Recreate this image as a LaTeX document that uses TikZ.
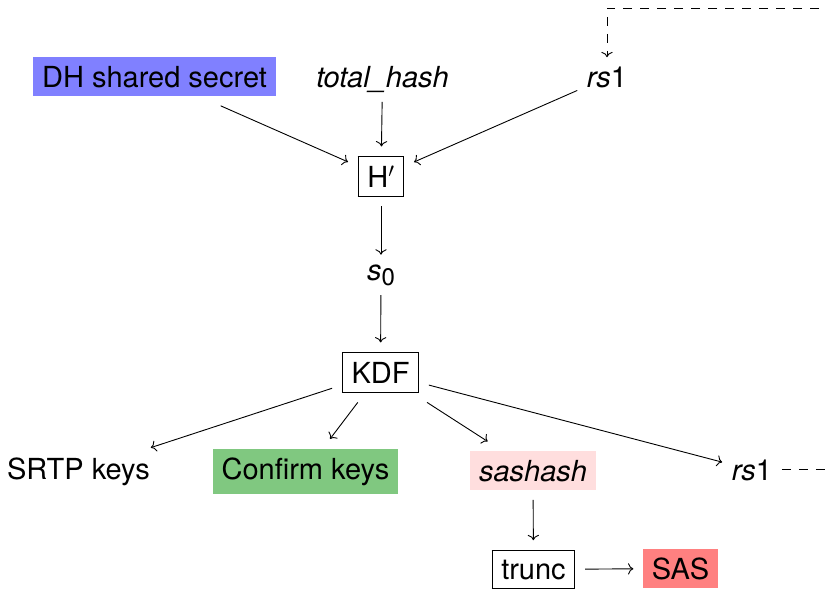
\documentclass[tikz,border=0pt]{standalone}
\usepackage{fontspec}
\usetikzlibrary{arrows.meta}
\setmainfont{TeX Gyre Heros}
\setsansfont{TeX Gyre Heros}
\definecolor{dhblue}{RGB}{128,128,255}
\definecolor{cgreen}{RGB}{128,200,128}
\definecolor{spink}{RGB}{255,222,222}
\definecolor{sasred}{RGB}{255,128,128}
\setlength{\fboxsep}{8.7pt}
\setlength{\fboxrule}{1pt}
\tikzset{
  n/.style={inner sep=9.5pt, font=\fontsize{29}{34}\selectfont, anchor=base},
  conn/.style={-{To[scale=1.5]}, line width=0.9pt},
  fb/.style={-{To[scale=1.5]}, line width=0.9pt, dash pattern=on 9pt off 8pt}
}
\begin{document}
\begin{tikzpicture}[x=1pt,y=-1pt]
\useasboundingbox (0,0) rectangle (827,589);
\clip (0,0) rectangle (827,589);
\node[n] (dh) at (154.5,87) {\colorbox{dhblue}{DH shared secret}};
\node[n] (th) at (382.5,87) {\textit{total\_hash}};
\node[n] (rsa) at (607,87.5) {\textit{rs}1};
\node[n] (h) at (381,187) {\fbox{H$'$}};
\node[n] (s0) at (381,280) {\textit{s}\raisebox{-5pt}{\fontsize{24}{24}\selectfont 0}};
\node[n] (kdf) at (380.5,383) {\fbox{KDF}};
\node[n] (srtp) at (78.5,479) {SRTP keys};
\node[n] (conf) at (305.5,479) {\colorbox{cgreen}{Confirm keys}};
\node[n] (sash) at (533,481) {\colorbox{spink}{\textit{sashash}}};
\node[n] (rsb) at (752,480) {\textit{rs}1};
\node[n] (trunc) at (533.5,579) {\fbox{trunc}};
\node[n] (sas) at (680.5,579) {\colorbox{sasred}{SAS}};
\coordinate (c1) at (850,0);
\coordinate (c2) at (0,8);
\draw[conn] (dh) -- (h);
\draw[conn] (th) -- (h);
\draw[conn] (rsa) -- (h);
\draw[conn] (h) -- (s0);
\draw[conn] (s0) -- (kdf);
\draw[conn] (kdf) -- (srtp);
\draw[conn] (kdf) -- (conf);
\draw[conn] (kdf) -- (sash);
\draw[conn] (kdf) -- (rsb);
\draw[conn] (sash) -- (trunc);
\draw[conn] (trunc) -- (sas);
\draw[fb] (rsb.east) -- (rsb.east -| c1) -- (c1 |- c2) -- (rsa.north |- c2) -- (rsa.north);
\end{tikzpicture}
\end{document}
